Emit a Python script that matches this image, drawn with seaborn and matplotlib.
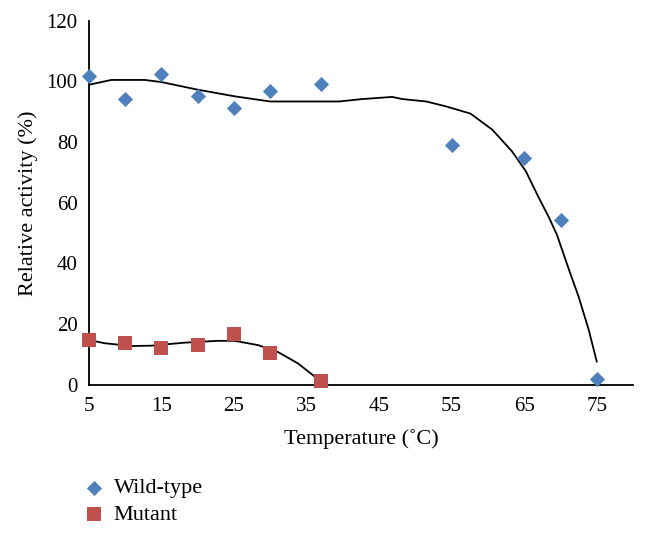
import numpy as np
import pandas as pd
import matplotlib
matplotlib.use("Agg")
import matplotlib.pyplot as plt
import seaborn as sns

# data
wt_temp = [5, 10, 15, 20, 25, 30, 37, 55, 65, 70, 75]
wt_activity = [101.9, 94.3, 102.5, 95.3, 91.2, 96.7, 99.2, 79.0, 74.9, 54.3, 1.9]
mut_temp = [5, 10, 15, 20, 25, 30, 37]
mut_activity = [14.8, 13.7, 12.0, 13.1, 16.6, 10.4, 1.3]

# trend lines
wt_fit_temp = [5, 8.1, 12.7, 15, 20, 25.1, 30, 39.5, 42.7, 46.8, 48.2, 51.5, 54.2,
               57.6, 60.6, 63.3, 65.2, 67, 68.4, 69.5, 71.2, 72.5, 73.9, 75]
wt_fit_activity = [98.9, 100.5, 100.5, 99.8, 97.3, 95.1, 93.4, 93.4, 94.2, 94.9, 94.2,
                   93.4, 91.8, 89.4, 84.1, 77.0, 70.5, 61.7, 55.2, 49.5, 37.7, 29.0,
                   18.0, 7.6]
mut_fit_temp = [5, 7.2, 10.9, 13.6, 18.2, 22.8, 25.1, 28.3, 31, 33.8, 37]
mut_fit_activity = [14.8, 13.7, 12.8, 12.9, 13.9, 14.5, 14.5, 13.1, 10.9, 7.1, 1.1]

x_ticks = [5, 15, 25, 35, 45, 55, 65, 75]
y_ticks = [0, 20, 40, 60, 80, 100, 120]

sns.set_style("white", {"text.color": "black", "axes.labelcolor": "black",
                        "xtick.color": "black", "ytick.color": "black"})
plt.rcParams["font.family"] = ["Liberation Serif", "DejaVu Serif"]

fig = plt.figure(figsize=(6.48, 5.33), dpi=100)
ax = fig.add_axes([0.137, 0.278, 0.840, 0.683])

sns.lineplot(x=wt_fit_temp, y=wt_fit_activity, color="black", lw=1.3, ax=ax)
sns.lineplot(x=mut_fit_temp, y=mut_fit_activity, color="black", lw=1.3, ax=ax)

sns.scatterplot(x=wt_temp, y=wt_activity, marker="D", color="#4F81BD", s=60,
                linewidth=0, label="Wild-type", ax=ax, zorder=3, clip_on=False)
sns.scatterplot(x=mut_temp, y=mut_activity, marker="s", color="#C0504D", s=95,
                linewidth=0, label="Mutant", ax=ax, zorder=3, clip_on=False)

ax.set_xlim(5, 80)
ax.set_ylim(0, 120)
ax.set_xticks(x_ticks)
ax.set_yticks(y_ticks)
ax.tick_params(labelsize=15, length=0)
ax.tick_params(axis="y", pad=8)
ax.tick_params(axis="x", pad=9)
ax.set_xlabel("Temperature (˚C)", fontsize=16, labelpad=9)
ax.set_ylabel("Relative activity (%)", fontsize=16, labelpad=6)
sns.despine(ax=ax)
for side in ["left", "bottom"]:
    ax.spines[side].set_color("black")
    ax.spines[side].set_linewidth(1.3)

handles, labels = ax.get_legend_handles_labels()
ax.get_legend().remove()
fig.legend(handles, labels, loc="upper left", bbox_to_anchor=(0.11, 0.12),
           frameon=False, fontsize=16, handletextpad=0.3, labelspacing=0.25,
           handlelength=1.2, borderaxespad=0)

fig.savefig("out.png", dpi=100)
